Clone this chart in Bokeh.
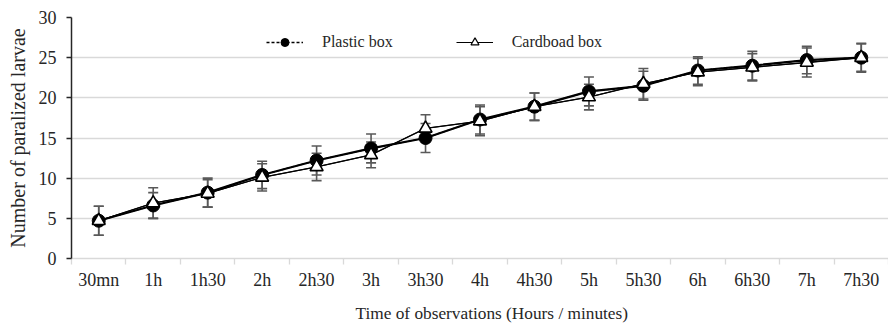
from bokeh.plotting import figure
from bokeh.models import (FixedTicker, Whisker, ColumnDataSource, Legend, LegendItem, TeeHead, Title)
from bokeh.embed import file_html
from bokeh.resources import INLINE

categories = ["30mn", "1h", "1h30", "2h", "2h30", "3h", "3h30", "4h", "4h30",
              "5h", "5h30", "6h", "6h30", "7h", "7h30"]
plastic = [4.7, 6.6, 8.2, 10.4, 12.2, 13.7, 15.0, 17.3, 18.9, 20.8, 21.5, 23.4, 24.0, 24.7, 25.0]
plastic_err = [1.8, 1.6, 1.8, 1.7, 1.8, 1.8, 1.8, 1.8, 1.7, 1.8, 1.8, 1.7, 1.8, 1.7, 1.8]
cardboard = [4.7, 6.9, 8.1, 10.1, 11.4, 12.9, 16.2, 17.1, 18.9, 20.1, 21.75, 23.2, 23.8, 24.4, 25.0]
cardboard_err = [1.8, 1.9, 1.7, 1.7, 1.7, 1.6, 1.7, 1.8, 1.7, 1.6, 1.9, 1.7, 1.7, 1.8, 1.7]

x = list(range(1, len(categories) + 1))
FONT = "Liberation Serif"
TXT = "#262626"

src = ColumnDataSource(dict(
    x=x, p=plastic, c=cardboard,
    p_lo=[v - e for v, e in zip(plastic, plastic_err)],
    p_hi=[v + e for v, e in zip(plastic, plastic_err)],
    c_lo=[v - e for v, e in zip(cardboard, cardboard_err)],
    c_hi=[v + e for v, e in zip(cardboard, cardboard_err)],
))

p = figure(width=888, height=331, output_backend="svg", toolbar_location=None,
           x_range=(0.5, len(categories) + 0.5), y_range=(0, 30),
           min_border_left=71, min_border_top=17, min_border_right=0, min_border_bottom=73)
p.outline_line_color = None
p.background_fill_color = "white"
p.border_fill_color = "white"

# grid
p.xgrid.grid_line_color = None
p.ygrid.grid_line_color = "#d9d9d9"
p.ygrid.grid_line_width = 1.3

# y axis
p.yaxis.ticker = FixedTicker(ticks=[0, 5, 10, 15, 20, 25, 30])
p.yaxis.axis_line_color = "#262626"
p.yaxis.axis_line_width = 1.5
p.yaxis.major_tick_line_color = "#262626"
p.yaxis.major_tick_line_width = 1.5
p.yaxis.major_tick_out = 5
p.yaxis.major_tick_in = 0
p.yaxis.minor_tick_line_color = None
p.yaxis.major_label_standoff = 10
p.yaxis.major_label_text_font = FONT
p.yaxis.major_label_text_font_size = "18px"
p.yaxis.major_label_text_color = TXT
p.yaxis.axis_label = "Number of paralized larvae"
p.yaxis.axis_label_text_font = FONT
p.yaxis.axis_label_text_font_size = "20px"
p.yaxis.axis_label_text_font_style = "normal"
p.yaxis.axis_label_text_color = TXT
p.yaxis.axis_label_standoff = 7

# x axis
p.xaxis.ticker = FixedTicker(ticks=x, minor_ticks=[v - 0.5 for v in x] + [x[-1] + 0.5])
p.xaxis.major_label_overrides = {i: c for i, c in zip(x, categories)}
p.xaxis.axis_line_color = "#d9d9d9"
p.xaxis.axis_line_width = 1.3
p.xaxis.major_tick_line_color = None
p.xaxis.major_tick_out = 0
p.xaxis.major_tick_in = 0
p.xaxis.minor_tick_line_color = "#d9d9d9"
p.xaxis.minor_tick_line_width = 1.3
p.xaxis.minor_tick_out = 6
p.xaxis.minor_tick_in = 0
p.xaxis.major_label_standoff = 5
p.xaxis.major_label_text_font = FONT
p.xaxis.major_label_text_font_size = "18px"
p.xaxis.major_label_text_color = TXT

xtitle = Title(text="Time of observations (Hours / minutes)", align="left", offset=284,
               text_font=FONT, text_font_size="17.3px", text_font_style="normal",
               text_color=TXT, standoff=18)
p.add_layout(xtitle, "below")

# legend glyphs (drawn first, hidden under the data marks)
leg_p_line = p.line("x", "p", source=src, line_color="black", line_width=1.3, line_dash="3 2")
leg_p_mark = p.scatter("x", "p", source=src, marker="circle", size=8,
                       fill_color="black", line_color="black")
leg_c_line = p.line("x", "c", source=src, line_color="black", line_width=1.0)
leg_c_mark = p.scatter("x", "c", source=src, marker="triangle", size=7, fill_color="white",
                       line_color="black", line_width=1.2)

# error bars
for lo, hi in (("p_lo", "p_hi"), ("c_lo", "c_hi")):
    w = Whisker(base="x", lower=lo, upper=hi, source=src,
                line_color="#595959", line_width=1.6,
                upper_head=TeeHead(size=10, line_color="#595959", line_width=1.6),
                lower_head=TeeHead(size=10, line_color="#595959", line_width=1.6))
    p.add_layout(w)

# lines and markers
lc = p.line("x", "c", source=src, line_color="black", line_width=1.3)
lp = p.line("x", "p", source=src, line_color="black", line_width=2.2)
sp = p.scatter("x", "p", source=src, marker="circle", size=13,
               fill_color="black", line_color="black")
sc = p.scatter("x", "c", source=src, marker="triangle", size=13,
               fill_color="white", line_color="black", line_width=1.6)

legend = Legend(items=[
    LegendItem(label="Plastic box", renderers=[leg_p_line, leg_p_mark]),
    LegendItem(label="Cardboad box", renderers=[leg_c_line, leg_c_mark]),
], orientation="horizontal", location=(195, 206))
legend.label_text_font = FONT
legend.label_text_font_size = "16px"
legend.label_text_color = TXT
legend.glyph_width = 37
legend.glyph_height = 20
legend.label_standoff = 19
legend.spacing = 63
legend.padding = 6
legend.margin = 0
legend.border_line_color = None
legend.background_fill_color = "white"
legend.background_fill_alpha = 1.0
p.add_layout(legend)

open("out.html", "w").write(file_html(p, INLINE))
